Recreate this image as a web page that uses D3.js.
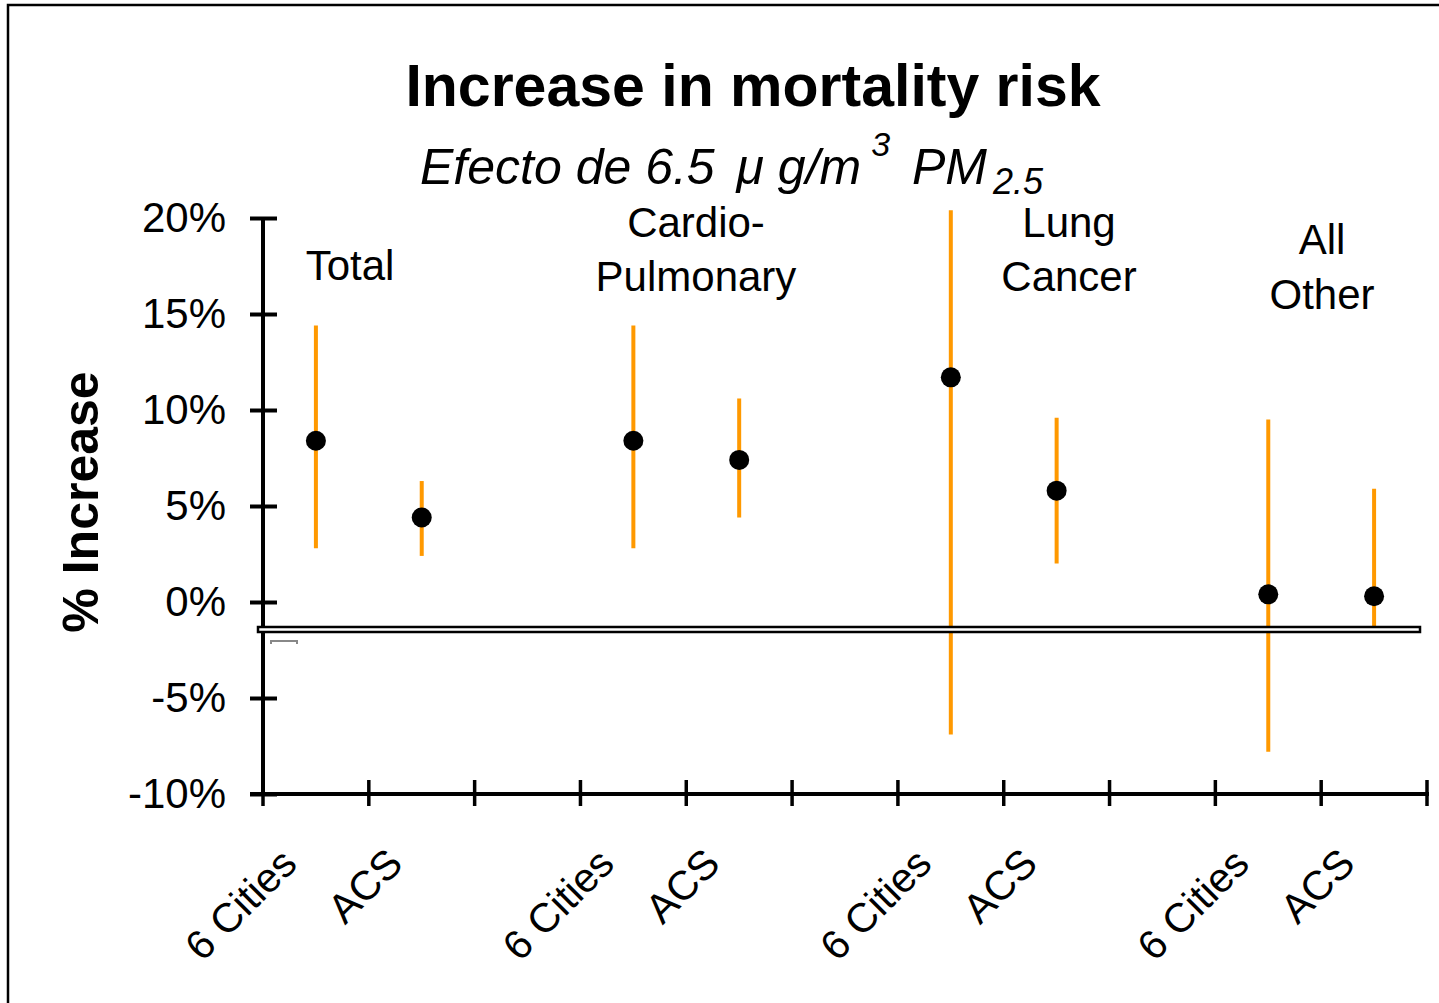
<!DOCTYPE html>
<html lang="en">
<head>
<meta charset="UTF-8">
<title>Increase in mortality risk</title>
<script src="https://d3js.org/d3.v7.min.js"></script>
<style>
  body { margin: 0; background: #fff; }
  text { font-family: "Liberation Sans", Arial, sans-serif; }
</style>
</head>
<body>
<script>
  // Data
  const groups = ["Total", "Cardio-Pulmonary", "Lung Cancer", "All Other"];
  const groupLines = [["Total"], ["Cardio-", "Pulmonary"], ["Lung", "Cancer"], ["All", "Other"]];
  const studies = ["6 Cities", "ACS"];
  const estimate = [8.4, 4.4, 8.4, 7.4, 11.7, 5.8, 0.4, 0.3];
  const lower = [2.8, 2.4, 2.8, 4.4, -6.9, 2.0, -7.8, -1.4];
  const upper = [14.4, 6.3, 14.4, 10.6, 20.4, 9.6, 9.5, 5.9];
  const yTicks = [-10, -5, 0, 5, 10, 15, 20];

  const W = 1439, H = 1003;
  const orange = "#ff9900";

  const svg = d3.select("body").append("svg")
    .attr("width", W).attr("height", H);

  // outer frame (only top & left visible)
  svg.append("path")
    .attr("d", "M8,1003 V5 H1439")
    .attr("fill", "none").attr("stroke", "#000").attr("stroke-width", 2.5);

  // slots: each group has two studies, followed by a gap slot
  const slots = [];
  groups.forEach((g, gi) => {
    studies.forEach(s => slots.push(g + "|" + s));
    if (gi < groups.length - 1) slots.push("gap" + gi);
  });

  const x = d3.scaleBand().domain(slots).range([263, 1427]).padding(0);
  const y = d3.scaleLinear().domain([-10, 20]).range([794, 218]);

  const points = [];
  groups.forEach((g, gi) => studies.forEach((s, si) => {
    const i = gi * 2 + si;
    points.push({ key: g + "|" + s, study: s, est: estimate[i], lo: lower[i], hi: upper[i] });
  }));

  // title
  svg.append("text")
    .attr("x", 753).attr("y", 106)
    .attr("text-anchor", "middle")
    .attr("font-weight", "bold").attr("font-size", 59)
    .text("Increase in mortality risk");

  const sub = svg.append("text")
    .attr("x", 420).attr("y", 184)
    .attr("font-style", "italic").attr("font-size", 50);
  sub.append("tspan").text("Efecto de 6.5 ");
  sub.append("tspan").attr("dx", 8).text("\u03bc g/m");
  sub.append("tspan").attr("dx", 10).attr("dy", -28).attr("font-size", 34).text("3");
  sub.append("tspan").attr("dy", 28).attr("dx", 8).text(" PM");
  sub.append("tspan").attr("dx", 6).attr("dy", 10).attr("font-size", 36).text("2.5");

  // y axis
  const yAxis = svg.append("g")
    .attr("transform", "translate(263,0)")
    .call(d3.axisLeft(y).tickValues(yTicks).tickSize(0).tickPadding(37)
      .tickFormat(d => d + "%"));
  yAxis.select(".domain").remove();
  yAxis.selectAll("text").attr("font-size", 42).attr("fill", "#000")
    .attr("font-family", "Liberation Sans, Arial, sans-serif");
  yAxis.selectAll(".tick").append("line")
    .attr("x1", -13).attr("x2", 14).attr("stroke", "#000").attr("stroke-width", 4);
  yAxis.append("line")
    .attr("y1", y(20)).attr("y2", y(-10) + 2)
    .attr("stroke", "#000").attr("stroke-width", 4);

  // x axis with ticks at band boundaries
  const xEdges = slots.map(s => x(s)).concat([x.range()[1]]);
  const xAxisG = svg.append("g");
  xAxisG.append("line")
    .attr("x1", 250).attr("x2", d3.max(xEdges) + 2)
    .attr("y1", y(-10)).attr("y2", y(-10))
    .attr("stroke", "#000").attr("stroke-width", 4);
  xAxisG.selectAll("line.tick").data(xEdges).join("line")
    .attr("class", "tick")
    .attr("x1", d => d).attr("x2", d => d)
    .attr("y1", y(-10) - 14).attr("y2", y(-10) + 12)
    .attr("stroke", "#000").attr("stroke-width", 3.5);

  // x tick labels
  svg.append("g").selectAll("text").data(points).join("text")
    .attr("transform", d => `translate(${x(d.key) + x.bandwidth() / 2 - 17},${y(-10) + 72}) rotate(-45)`)
    .attr("text-anchor", "end")
    .attr("font-size", 41)
    .text(d => d.study);

  // group labels
  const groupPos = [[350, [280]], [696, [237, 291]], [1069, [237, 291]], [1322, [254, 309]]];
  groupLines.forEach((lines, gi) => {
    const t = svg.append("text")
      .attr("text-anchor", "middle").attr("font-size", 42);
    lines.forEach((ln, li) => {
      t.append("tspan").attr("x", groupPos[gi][0]).attr("y", groupPos[gi][1][li]).text(ln);
    });
  });

  // y axis title
  svg.append("text")
    .attr("transform", `translate(98,${(y(20) + y(-10)) / 2 - 4}) rotate(-90)`)
    .attr("text-anchor", "middle")
    .attr("font-weight", "bold").attr("font-size", 50)
    .text("% Increase");

  // confidence intervals
  svg.append("g").selectAll("line").data(points).join("line")
    .attr("x1", d => x(d.key) + x.bandwidth() / 2)
    .attr("x2", d => x(d.key) + x.bandwidth() / 2)
    .attr("y1", d => y(d.hi)).attr("y2", d => y(d.lo))
    .attr("stroke", orange).attr("stroke-width", 4);

  // estimates
  svg.append("g").selectAll("circle").data(points).join("circle")
    .attr("cx", d => x(d.key) + x.bandwidth() / 2)
    .attr("cy", d => y(d.est))
    .attr("r", 10).attr("fill", "#000");

  // axis break band
  svg.append("rect")
    .attr("x", 258).attr("y", 627).attr("width", 1162).attr("height", 5)
    .attr("fill", "#fff").attr("stroke", "#000").attr("stroke-width", 2.5);
  svg.append("path")
    .attr("d", "M271,644 V641 H297 V644")
    .attr("fill", "none").attr("stroke", "#888").attr("stroke-width", 2);
</script>
</body>
</html>
